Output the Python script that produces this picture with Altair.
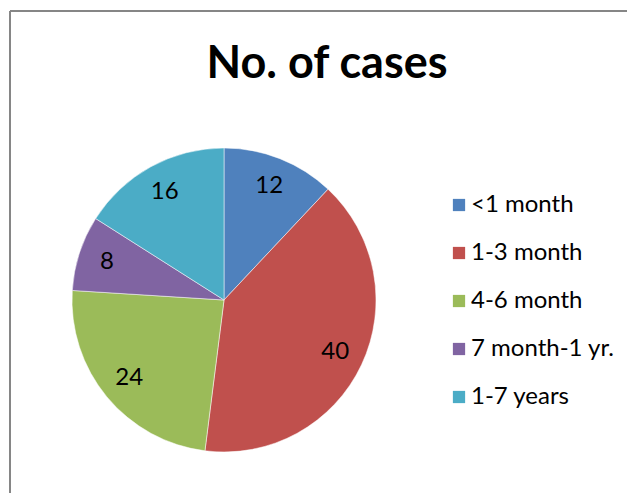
import altair as alt
import pandas as pd

categories = ["<1 month", "1-3 month", "4-6 month", "7 month-1 yr.", "1-7 years"]
cases = [12, 40, 24, 8, 16]
colors = ["#4F81BD", "#C0504D", "#9BBB59", "#8064A2", "#4BACC6"]
title_text = "No. of cases"

df = pd.DataFrame({"category": categories, "cases": cases, "idx": list(range(len(cases)))})
title_df = pd.DataFrame({"title": [title_text]})

FONT = "Lato"
CX, CY, R = 214, 289, 152

color = alt.Color(
    "category:N",
    scale=alt.Scale(domain=categories, range=colors),
    legend=alt.Legend(
        title=None,
        orient="none",
        legendX=437,
        legendY=182,
        symbolType="square",
        symbolSize=150,
        symbolStrokeWidth=0,
        labelFont=FONT,
        labelFontSize=24,
        labelColor="#000000",
        labelOffset=0,
        rowPadding=24,
        padding=0,
    ),
)

base = alt.Chart(df).encode(
    theta=alt.Theta("cases:Q", stack=True),
    order=alt.Order("idx:Q"),
)

pie = base.mark_arc(radius=R, stroke="white", strokeWidth=0.5).encode(
    color=color,
    x=alt.value(CX),
    y=alt.value(CY),
)

labels = base.mark_text(radius=123, font=FONT, fontSize=24, color="#000000").encode(
    text="cases:Q",
    x=alt.value(CX),
    y=alt.value(CY),
)

title = alt.Chart(title_df).mark_text(
    font=FONT, fontSize=45, fontWeight="bold", color="#000000",
    align="center", baseline="alphabetic",
).encode(text="title:N", x=alt.value(317), y=alt.value(67))

border_top = alt.Chart(df).mark_rule(color="#868686", strokeWidth=2).encode(
    x=alt.value(0), x2=alt.value(617), y=alt.value(0)
)
border_left = alt.Chart(df).mark_rule(color="#868686", strokeWidth=2).encode(
    x=alt.value(0), y=alt.value(0), y2=alt.value(482)
)

chart = (
    alt.layer(border_top, border_left, title, pie, labels)
    .properties(
        width=617,
        height=482,
        autosize=alt.AutoSizeParams(type="none"),
        padding={"left": 2, "top": 3, "right": 0, "bottom": 0},
    )
    .configure_view(stroke=None)
    .configure(background="white")
)

chart.save("out.html", embed_options={"renderer": "svg", "actions": False})
